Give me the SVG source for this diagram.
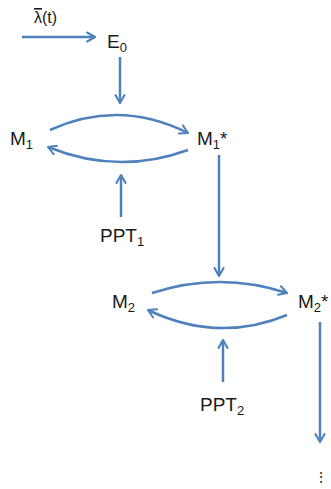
<svg xmlns="http://www.w3.org/2000/svg" width="331" height="489" viewBox="0 0 331 489">
<style>
.lbl{font-family:"Liberation Sans","Arial",sans-serif;font-size:19px;fill:#1a1a1a}
.sub{font-size:13px}
.edge{fill:none;stroke:#4f81bd;stroke-width:2.5;marker-end:url(#ah)}
</style>
<defs>
<marker id="ah" viewBox="0 0 10 10" refX="8" refY="5" markerWidth="4.5" markerHeight="4.5" orient="auto" markerUnits="strokeWidth">
<path d="M1,1 L8,5 L1,9" fill="none" stroke="#4f81bd" stroke-width="1.8" stroke-linecap="round" stroke-linejoin="round"/>
</marker>
</defs>
<rect width="331" height="489" fill="#ffffff"/>
<g id="connectors">
<path class="edge" d="M22,37 L95,37"/>
<path class="edge" d="M120,57 L120,103"/>
<path class="edge" d="M50,130 Q119,98.5 188,133"/>
<path class="edge" d="M188,150 Q118,175.5 48,147"/>
<path class="edge" d="M121,217 L121,175"/>
<path class="edge" d="M219,155 L219,276"/>
<path class="edge" d="M152,293 Q220,271 287,293"/>
<path class="edge" d="M287,315 Q218,343.5 148,310"/>
<path class="edge" d="M223,382 L223,340"/>
<path class="edge" d="M320,322 L320,442"/>
</g>
<g id="lambda"><text class="lbl" x="34" y="23" style="font-size:16px"><tspan style="text-decoration:overline">λ</tspan>(t)</text></g>
<g id="E0"><text class="lbl" x="107" y="48">E<tspan class="sub" dy="4">0</tspan></text></g>
<g id="M1"><text class="lbl" x="10" y="145">M<tspan class="sub" dy="4">1</tspan></text></g>
<g id="M1s"><text class="lbl" x="197" y="145">M<tspan class="sub" dy="4">1</tspan><tspan dy="-4">*</tspan></text></g>
<g id="PPT1"><text class="lbl" x="100" y="242">PPT<tspan class="sub" dy="4">1</tspan></text></g>
<g id="M2"><text class="lbl" x="112" y="308">M<tspan class="sub" dy="4">2</tspan></text></g>
<g id="M2s"><text class="lbl" x="298" y="308">M<tspan class="sub" dy="4">2</tspan><tspan dy="-4">*</tspan></text></g>
<g id="PPT2"><text class="lbl" x="200" y="411">PPT<tspan class="sub" dy="4">2</tspan></text></g>
<g id="dots"><text class="lbl" x="321" y="482" text-anchor="middle" style="font-size:14px">⋮</text></g>
</svg>
